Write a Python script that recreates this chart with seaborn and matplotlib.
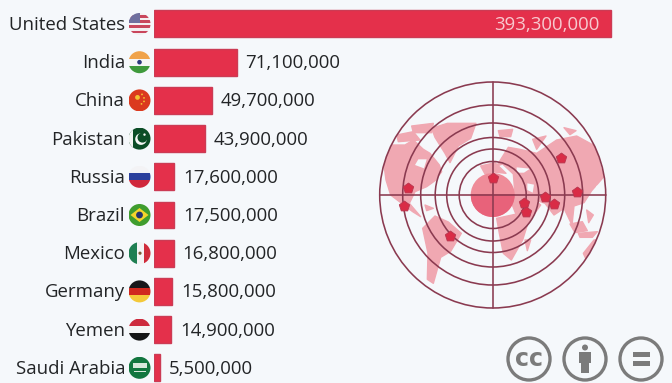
import numpy as np
import pandas as pd
import matplotlib
matplotlib.use("Agg")
import matplotlib.pyplot as plt
from matplotlib.patches import Circle, Rectangle, Polygon
import seaborn as sns

countries = ["United States", "India", "China", "Pakistan", "Russia", "Brazil",
             "Mexico", "Germany", "Yemen", "Saudi Arabia"]
values = [393300000, 71100000, 49700000, 43900000, 17600000, 17500000,
          16800000, 15800000, 14900000, 5500000]

BG = "#f5f8fb"
BAR = "#e4304b"
EDGE = "#cc3b54"
INK = "#222426"
FS = 13.45
W, H = 672, 383

sns.set_theme(style="white")
plt.rcParams["font.family"] = ["Open Sans", "DejaVu Sans"]
fig = plt.figure(figsize=(W / 100, H / 100), dpi=100, facecolor=BG)

x0, x1 = 154.0, 611.0
row0, rowstep = 24.0, 38.2
ax = fig.add_axes([x0 / W, 0, 1 - x0 / W, 1])
df = pd.DataFrame({"country": countries, "value": values})
sns.barplot(data=df, y="country", x="value", ax=ax, color=BAR, saturation=1,
            width=27 / rowstep, edgecolor=EDGE, linewidth=1)
ax.set_xlim(0, values[0] * (W - x0) / (x1 - x0))
ax.set_ylim((H - row0) / rowstep, -row0 / rowstep)
ax.set_facecolor("none")
ax.axis("off")
for i, v in enumerate(values):
    if i == 0:
        ax.annotate(f"{v:,}", (v, i), xytext=(-8, 0.7), textcoords="offset points",
                    ha="right", va="center_baseline", fontsize=FS, color="#f7c9cf")
    else:
        ax.annotate(f"{v:,}", (v, i), xytext=(6.2, 0.7), textcoords="offset points",
                    ha="left", va="center_baseline", fontsize=FS, color=INK)

ov = fig.add_axes([0, 0, 1, 1])
ov.set_xlim(0, W)
ov.set_ylim(H, 0)
ov.axis("off")
ov.patch.set_alpha(0)

for i, c in enumerate(countries):
    ov.text(125, row0 + i * rowstep - 1, c, ha="right", va="center_baseline", fontsize=FS, color=INK)


# ---------- flags ----------
def flag(i, draw):
    cx, cy = 139.5, row0 + i * rowstep
    r = 11
    clip = Circle((cx, cy), r, transform=ov.transData)

    def rect(x, y, w, h, col):
        p = Rectangle((cx + x, cy + y), w, h, fc=col, ec="none", zorder=3)
        ov.add_patch(p)
        p.set_clip_path(clip)

    def poly(pts, col):
        p = Polygon([(cx + a, cy + b) for a, b in pts], fc=col, ec="none", zorder=4)
        ov.add_patch(p)
        p.set_clip_path(clip)

    def circ(x, y, rad, col):
        p = Circle((cx + x, cy + y), rad, fc=col, ec="none", zorder=5)
        ov.add_patch(p)
        p.set_clip_path(clip)

    draw(rect, poly, circ)


def us(rect, poly, circ):
    rect(-11, -11, 22, 22, "#f3eef0")
    for k in range(4):
        rect(-11, -9 + k * 5.2, 22, 2.6, "#c9465c")
    rect(-11, -11, 11, 10, "#6f6f9e")


def india(rect, poly, circ):
    rect(-11, -11, 22, 7.5, "#f0a34a")
    rect(-11, -3.5, 22, 7, "#f6f6f6")
    rect(-11, 3.5, 22, 8, "#3f9a3c")
    circ(0, 0, 2.3, "#2d3a7c")


def china(rect, poly, circ):
    rect(-11, -11, 22, 22, "#db3a1f")
    circ(-2, -3, 2.4, "#f2c232")
    for a, b in [(2.5, -6), (4.5, -2.5), (4.5, 1), (2, 3.5)]:
        circ(a, b, 0.9, "#f2c232")


def pakistan(rect, poly, circ):
    rect(-11, -11, 22, 22, "#0b4d26")
    rect(-11, -11, 4, 22, "#f2f4f2")
    circ(1.5, 0.5, 5.8, "#f5f7f5")
    circ(3, -1, 5, "#0b4d26")
    circ(5, -4, 1.2, "#f5f7f5")


def russia(rect, poly, circ):
    rect(-11, -11, 22, 7.5, "#f3f3f5")
    rect(-11, -3.5, 22, 7, "#2a3f9c")
    rect(-11, 3.5, 22, 8, "#d0283c")


def brazil(rect, poly, circ):
    rect(-11, -11, 22, 22, "#3f9d2e")
    poly([(-9, 0), (0, -7), (9, 0), (0, 7)], "#f3d52c")
    circ(0, 0, 3.4, "#24346e")


def mexico(rect, poly, circ):
    rect(-11, -11, 8, 22, "#1f7f52")
    rect(-3, -11, 7, 22, "#f4f4f4")
    rect(4, -11, 7, 22, "#cf2b3a")
    circ(0.5, 0, 1.6, "#7a5a35")


def germany(rect, poly, circ):
    rect(-11, -11, 22, 7.5, "#17171a")
    rect(-11, -3.5, 22, 7, "#d0281f")
    rect(-11, 3.5, 22, 8, "#f4c93a")


def yemen(rect, poly, circ):
    rect(-11, -11, 22, 7.5, "#cd2a3c")
    rect(-11, -3.5, 22, 7, "#f4f4f4")
    rect(-11, 3.5, 22, 8, "#151515")


def saudi(rect, poly, circ):
    rect(-11, -11, 22, 22, "#12763f")
    rect(-7, -4.5, 14, 4.5, "#d9e8dc")
    rect(-6, 3.5, 12, 1, "#d9e8dc")


for i, d in enumerate([us, india, china, pakistan, russia, brazil, mexico, germany, yemen, saudi]):
    flag(i, d)

# ---------- radar map ----------
mx, my = 492.7, 195.0
ZX = lambda p: (370 + p[0] / 3, 90 + p[1] / 3)
LAND = "#f0a8b2"
map_clip = Circle((mx, my), 113, transform=ov.transData)
land = [
    [(40, 210), (60, 165), (105, 165), (130, 150), (160, 178), (180, 190), (208, 225), (215, 245),
     (195, 272), (170, 290), (135, 305), (118, 340), (152, 380), (128, 365), (95, 340), (62, 315), (48, 270)],
    [(185, 115), (232, 100), (318, 100), (302, 145), (265, 168), (240, 218), (225, 190), (195, 142)],
    [(125, 108), (190, 100), (185, 128), (130, 128)],
    [(80, 135), (130, 125), (150, 150), (85, 155)],
    [(158, 415), (195, 378), (235, 396), (274, 430), (242, 484), (212, 502), (190, 580), (172, 568), (174, 490)],
    [(380, 385), (440, 372), (475, 395), (458, 450), (424, 510), (400, 490), (388, 430)],
    [(465, 450), (482, 450), (472, 482)],
    [(430, 300), (482, 320), (512, 345), (475, 398), (440, 378), (425, 340)],
    [(380, 228), (415, 172), (450, 178), (500, 190), (560, 150), (620, 138), (675, 168), (700, 262),
     (665, 302), (642, 338), (612, 348), (606, 405), (582, 355), (552, 375), (525, 340), (482, 325),
     (435, 315), (430, 252), (398, 222)],
    [(332, 228), (375, 218), (408, 250), (372, 246), (345, 252)],
    [(385, 122), (428, 118), (422, 140), (390, 140)],
    [(488, 148), (528, 138), (500, 178)],
    [(582, 113), (618, 122), (600, 134)],
    [(640, 490), (672, 450), (710, 448), (710, 540), (650, 512)],
    [(600, 402), (637, 395), (652, 422), (615, 428)],
    [(625, 430), (682, 425), (667, 442), (630, 442)],
    [(650, 360), (670, 375), (656, 398)],
    [(165, 345), (190, 355), (170, 362)],
]
holes = [
    [(145, 208), (170, 208), (162, 235), (135, 225)],
    [(165, 145), (195, 152), (208, 172), (178, 168)],
    [(472, 280), (492, 284), (488, 308), (472, 300)],
    [(678, 288), (705, 282), (690, 308)],
    [(440, 232), (480, 236), (462, 248), (440, 248)],
]
for pts in land:
    p = Polygon([ZX(q) for q in pts], fc=LAND, ec=LAND, lw=1, joinstyle="round", zorder=2)
    ov.add_patch(p)
    p.set_clip_path(map_clip)
for pts in holes:
    ov.add_patch(Polygon([ZX(q) for q in pts], fc=BG, ec="none", zorder=2.1))

ov.add_patch(Circle((mx, my), 22, fc="#ef8c99", ec="none", zorder=2.5))
low = Rectangle((mx - 22, my - 1), 44, 24, fc="#e8627a", ec="none", zorder=2.6)
ov.add_patch(low)
low.set_clip_path(Circle((mx, my), 22, transform=ov.transData))

RING = "#8a3a50"
for r in [33.5, 46, 57.5, 72, 90, 113]:
    ov.add_patch(Circle((mx, my), r, fc="none", ec=RING, lw=1.15, zorder=6))
ov.plot([mx - 113, mx + 113], [my, my], color=RING, lw=1.15, zorder=6)
ov.plot([mx, mx], [my - 113, my + 113], color=RING, lw=1.15, zorder=6)

marker_x = [113, 102, 240, 370, 462, 468, 526, 552, 622, 574]
marker_y = [293, 348, 438, 265, 340, 365, 322, 341, 305, 203]
ov.scatter([370 + a / 3 for a in marker_x], [90 + b / 3 for b in marker_y], marker="p", s=62,
           color="#d92c46", edgecolor="#b8364f", linewidth=0.6, zorder=7)

# ---------- licence icons ----------
GREY = "#7b7b7b"
for cx in [529, 585, 641]:
    ov.add_patch(Circle((cx, 359), 21, fc="none", ec=GREY, lw=2.4, zorder=3))
ov.text(529, 358.5, "cc", ha="center", va="center", fontsize=17, fontweight="bold", color=GREY, fontfamily="DejaVu Sans")
ov.add_patch(Circle((585, 347.5), 3, fc=GREY, ec="none"))
ov.add_patch(Polygon([(579, 352), (591, 352), (591, 363), (589, 363), (589, 373), (581, 373), (581, 363), (579, 363)],
                     fc=GREY, ec="none"))
ov.add_patch(Rectangle((633, 352), 17, 4.5, fc=GREY, ec="none"))
ov.add_patch(Rectangle((633, 361), 17, 4.5, fc=GREY, ec="none"))

fig.savefig("out.png", dpi=100, facecolor=BG)
